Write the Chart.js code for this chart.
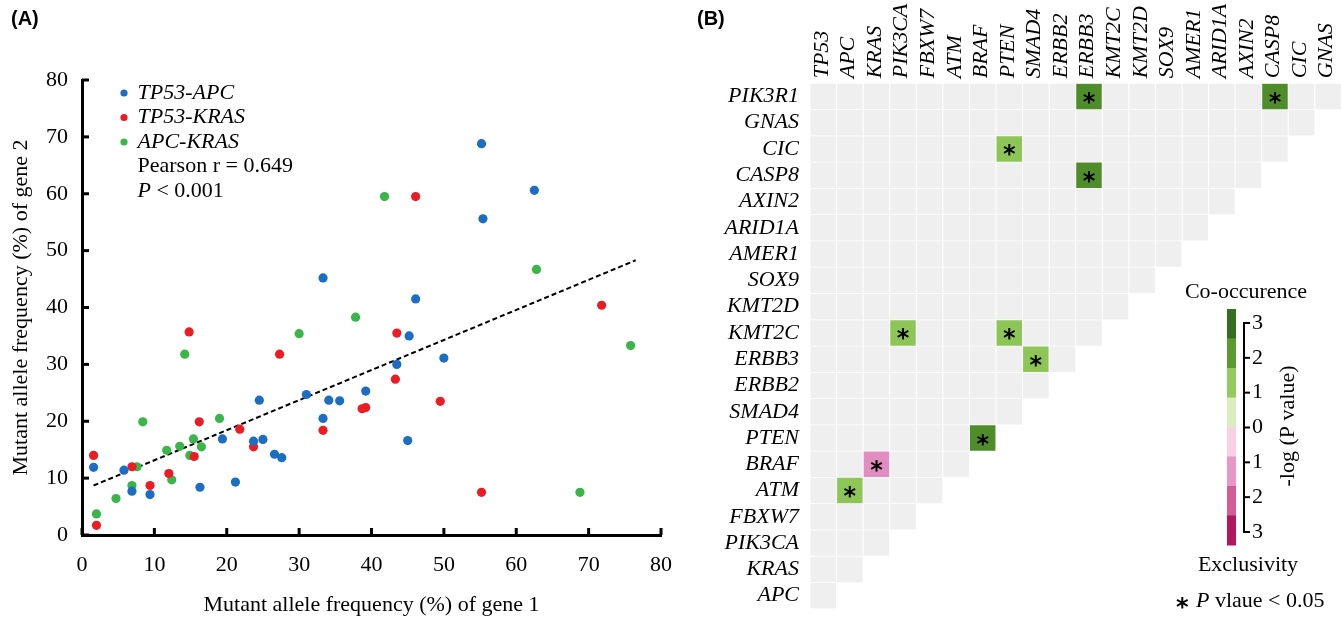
<!DOCTYPE html>
<html>
<head>
<meta charset="utf-8">
<script src="https://cdn.jsdelivr.net/npm/chart.js@4.4.1/dist/chart.umd.min.js"></script>
<style>
  html, body { margin: 0; padding: 0; background: #fff; overflow: hidden; }
  #wrapA { position: absolute; left: 0; top: 0; }
  #wrapB { position: absolute; left: 690px; top: 0; }
</style>
</head>
<body>
<div id="wrapA"><canvas id="chartA" width="690" height="633"></canvas></div>
<div id="wrapB"><canvas id="chartB" width="653" height="633"></canvas></div>
<script>
// ---- panel A: mutant allele frequency (%) gene 1 vs gene 2 ----
var tp53ApcX = [1.6, 5.8, 6.9, 9.4, 16.3, 19.4, 21.2, 23.7, 25.0, 24.5, 26.6, 27.6, 31.0, 33.3, 34.1, 35.6, 33.3, 39.2, 43.5, 45.0, 45.2, 46.1, 50.0, 55.2, 55.4, 62.5];
var tp53ApcY = [11.9, 11.4, 7.7, 7.1, 8.4, 16.9, 9.3, 16.5, 16.8, 23.7, 14.2, 13.6, 24.7, 20.5, 23.7, 23.6, 45.2, 25.3, 30.0, 16.6, 35.0, 41.5, 31.1, 68.8, 55.6, 60.6];
var tp53KrasX = [1.6, 2.0, 6.9, 9.4, 12.0, 14.8, 15.5, 16.2, 21.8, 23.7, 27.3, 33.3, 38.7, 39.2, 43.3, 43.5, 46.1, 49.5, 55.2, 71.8];
var tp53KrasY = [14.0, 1.7, 12.0, 8.7, 10.8, 35.7, 13.8, 19.9, 18.6, 15.5, 31.8, 18.4, 22.2, 22.4, 27.4, 35.5, 59.5, 23.5, 7.5, 40.4];
var apcKrasX = [2.0, 4.7, 6.9, 7.6, 8.4, 11.7, 12.4, 13.5, 14.2, 14.9, 15.4, 16.5, 19.0, 30.0, 37.8, 41.8, 62.8, 68.8, 75.8];
var apcKrasY = [3.7, 6.4, 8.7, 12.0, 19.9, 14.9, 9.7, 15.6, 31.8, 14.0, 16.9, 15.5, 20.5, 35.4, 38.3, 59.5, 46.7, 7.5, 33.3];
var trendX = [1.6, 76.5];
var trendY = [8.7, 48.3];
var pearsonR = '0.649';
var pValue = '0.001';

// ---- panel B: pairwise co-occurrence / exclusivity ----
var colGenes = ['TP53', 'APC', 'KRAS', 'PIK3CA', 'FBXW7', 'ATM', 'BRAF', 'PTEN', 'SMAD4', 'ERBB2', 'ERBB3', 'KMT2C', 'KMT2D', 'SOX9', 'AMER1', 'ARID1A', 'AXIN2', 'CASP8', 'CIC', 'GNAS'];
var rowGenes = ['PIK3R1', 'GNAS', 'CIC', 'CASP8', 'AXIN2', 'ARID1A', 'AMER1', 'SOX9', 'KMT2D', 'KMT2C', 'ERBB3', 'ERBB2', 'SMAD4', 'PTEN', 'BRAF', 'ATM', 'FBXW7', 'PIK3CA', 'KRAS', 'APC'];
// significant pairs, signed -log(P): + co-occurence, - exclusivity
var sigRow = ['PIK3R1', 'PIK3R1', 'CIC', 'CASP8', 'KMT2C', 'KMT2C', 'ERBB3', 'PTEN', 'BRAF', 'ATM'];
var sigCol = ['ERBB3', 'CASP8', 'PTEN', 'ERBB3', 'PIK3CA', 'PTEN', 'SMAD4', 'BRAF', 'KRAS', 'APC'];
var sigLogP = [2.0, 2.0, 1.4, 2.0, 1.4, 1.4, 1.4, 2.0, -1.4, 1.4];
var barTicks = ['3', '2', '1', '0', '1', '2', '3'];

var serif = '"Liberation Serif", "Times New Roman", serif';
var blue = '#1b6ec2', red = '#ec1c24', green = '#3ab54a';

function pts(xs, ys) {
    return xs.map(function (x, i) { return {x: x, y: ys[i]}; });
}

var innerTicks = {
    id: 'innerTicks',
    afterDraw: function (chart) {
        var ctx = chart.ctx, xs = chart.scales.x, ys = chart.scales.y;
        var area = chart.chartArea;
        ctx.save();
        ctx.strokeStyle = '#000';
        ctx.lineWidth = 3;
        xs.ticks.forEach(function (t) {
            var px = xs.getPixelForValue(t.value);
            ctx.beginPath(); ctx.moveTo(px, area.bottom); ctx.lineTo(px, area.bottom - 7); ctx.stroke();
        });
        ys.ticks.forEach(function (t) {
            var py = ys.getPixelForValue(t.value);
            ctx.beginPath(); ctx.moveTo(area.left, py); ctx.lineTo(area.left + 7, py); ctx.stroke();
        });
        ctx.restore();
    }
};

var legendA = {
    id: 'legendA',
    afterDraw: function (chart) {
        var ctx = chart.ctx;
        ctx.save();
        ctx.textBaseline = 'middle';
        ctx.fillStyle = '#000';
        ctx.font = 'bold 20px "Liberation Sans", Arial, sans-serif';
        ctx.fillText('(A)', 11, 19);
        var y = 93;
        for (var i = 0; i < 3; i++) {
            var ds = chart.data.datasets[i];
            ctx.beginPath();
            ctx.arc(124, y, 3.6, 0, Math.PI * 2);
            ctx.fillStyle = ds.backgroundColor;
            ctx.fill();
            ctx.fillStyle = '#000';
            ctx.font = 'italic 22px ' + serif;
            ctx.fillText(ds.label, 137.5, y);
            y += 24.5;
        }
        ctx.font = '22px ' + serif;
        ctx.fillText('Pearson r = ' + pearsonR, 137.5, y);
        y += 24.5;
        ctx.font = 'italic 22px ' + serif;
        ctx.fillText('P', 137.5, y);
        var w = ctx.measureText('P').width;
        ctx.font = '22px ' + serif;
        ctx.fillText(' < ' + pValue, 137.5 + w, y);
        ctx.restore();
    }
};

var chartA = new Chart(document.getElementById('chartA'), {
    type: 'scatter',
    data: {
        datasets: [
            {label: 'TP53-APC', data: pts(tp53ApcX, tp53ApcY), backgroundColor: blue, borderWidth: 0, pointRadius: 4.6},
            {label: 'TP53-KRAS', data: pts(tp53KrasX, tp53KrasY), backgroundColor: red, borderWidth: 0, pointRadius: 4.6},
            {label: 'APC-KRAS', data: pts(apcKrasX, apcKrasY), backgroundColor: green, borderWidth: 0, pointRadius: 4.6},
            {label: 'fit', type: 'line', data: pts(trendX, trendY), borderColor: '#000', borderWidth: 2,
             borderDash: [5, 3], pointRadius: 0, fill: false}
        ]
    },
    options: {
        responsive: false,
        animation: false,
        events: [],
        layout: {padding: {top: 80, right: 29, left: 0, bottom: 0}},
        plugins: {legend: {display: false}, tooltip: {enabled: false}},
        scales: {
            x: {
                type: 'linear', min: 0, max: 80,
                ticks: {stepSize: 10, color: '#000', font: {family: serif, size: 22}, padding: 17},
                grid: {display: false, drawTicks: false},
                border: {display: true, color: '#000', width: 3},
                title: {display: true, text: 'Mutant allele frequency (%) of gene 1', color: '#000',
                        font: {family: serif, size: 22}, padding: {top: 0, bottom: 15}},
                afterFit: function (s) { s.height = 98; }
            },
            y: {
                type: 'linear', min: 0, max: 80,
                ticks: {stepSize: 10, color: '#000', font: {family: serif, size: 22}, padding: 14},
                grid: {display: false, drawTicks: false},
                border: {display: true, color: '#000', width: 3},
                title: {display: true, text: 'Mutant allele frequency (%) of gene 2', color: '#000',
                        font: {family: serif, size: 22}, padding: {top: 8, bottom: 0}},
                afterFit: function (s) { s.width = 82; }
            }
        }
    },
    plugins: [innerTicks, legendA]
});

// build the triangular grid of gene pairs
function sigIndex(rg, cg) {
    for (var k = 0; k < sigRow.length; k++) {
        if (sigRow[k] === rg && sigCol[k] === cg) return k;
    }
    return -1;
}
var cells = [];
rowGenes.forEach(function (rg, r) {
    var stop = colGenes.indexOf(rg);
    if (stop < 0) stop = colGenes.length;
    for (var c = 0; c < stop; c++) {
        var k = sigIndex(rg, colGenes[c]);
        cells.push({x: colGenes[c], y: [r - 0.485, r + 0.485], logp: k >= 0 ? sigLogP[k] : null});
    }
});

function cellColor(v) {
    if (v === null) return '#efefef';
    if (v >= 1.8) return '#4f8d2a';
    if (v >= 1) return '#8dc657';
    if (v <= -1) return '#e18dc1';
    return '#efefef';
}
var barColors = ['#356e1f', '#5a9a2e', '#94ca5e', '#d8efbd', '#f9d0e5', '#e898c6', '#d35d98', '#b2165f'];

var starFont = 'bold 24px "DejaVu Sans", sans-serif';

var starsB = {
    id: 'starsB',
    afterDatasetsDraw: function (chart) {
        var ctx = chart.ctx;
        var meta = chart.getDatasetMeta(0);
        ctx.save();
        ctx.fillStyle = '#000';
        ctx.textAlign = 'center';
        ctx.textBaseline = 'alphabetic';
        ctx.font = starFont;
        meta.data.forEach(function (el, i) {
            if (cells[i].logp === null) return;
            var cy = (el.y + el.base) / 2;
            ctx.fillText('*', el.x, cy + 13.5);
        });
        ctx.restore();
    }
};

var legendB = {
    id: 'legendB',
    afterDraw: function (chart) {
        var ctx = chart.ctx;
        var ox = -690; // page -> canvas
        ctx.save();
        ctx.fillStyle = '#000';
        ctx.textBaseline = 'middle';
        ctx.font = 'bold 20px "Liberation Sans", Arial, sans-serif';
        ctx.fillText('(B)', 697 + ox, 19);

        // colour bar
        var top = 309, seg = 29.5;
        barColors.forEach(function (col, i) {
            ctx.fillStyle = col;
            ctx.fillRect(1227 + ox, top + i * seg, 9, seg + 0.5);
        });
        ctx.strokeStyle = '#000';
        ctx.lineWidth = 2;
        var lx = 1244 + ox, y0 = 323, y1 = 532;
        ctx.beginPath(); ctx.moveTo(lx, y0); ctx.lineTo(lx, y1); ctx.stroke();
        ctx.fillStyle = '#000';
        ctx.font = '22px ' + serif;
        ctx.textAlign = 'left';
        barTicks.forEach(function (t, i) {
            var ty = y0 + i * (y1 - y0) / (barTicks.length - 1);
            ctx.beginPath(); ctx.moveTo(lx - 1, ty); ctx.lineTo(lx + 6, ty); ctx.stroke();
            ctx.fillText(t, 1252 + ox, ty);
        });
        ctx.textAlign = 'center';
        ctx.fillText('Co-occurence', 1246 + ox, 292);
        ctx.fillText('Exclusivity', 1248 + ox, 565);
        ctx.save();
        ctx.translate(1288 + ox, 426);
        ctx.rotate(-Math.PI / 2);
        ctx.fillText('-log (P value)', 0, 0);
        ctx.restore();

        ctx.textAlign = 'left';
        ctx.font = starFont;
        ctx.textBaseline = 'alphabetic';
        ctx.fillText('*', 1176 + ox, 601 + 13.5);
        ctx.textBaseline = 'middle';
        ctx.font = 'italic 22px ' + serif;
        ctx.fillText('P', 1196 + ox, 601);
        var w = ctx.measureText('P').width;
        ctx.font = '22px ' + serif;
        ctx.fillText(' vlaue < 0.05', 1196 + ox + w, 601);
        ctx.restore();
    }
};

var chartB = new Chart(document.getElementById('chartB'), {
    type: 'bar',
    data: {
        labels: colGenes,
        datasets: [{
            data: cells,
            backgroundColor: function (c) { return c.raw ? cellColor(c.raw.logp) : '#efefef'; },
            borderWidth: 0,
            borderSkipped: false,
            barPercentage: 1,
            categoryPercentage: 0.96
        }]
    },
    options: {
        responsive: false,
        animation: false,
        events: [],
        layout: {padding: {top: 0, right: 1.6, left: 0, bottom: 0.7}},
        plugins: {legend: {display: false}, tooltip: {enabled: false}},
        scales: {
            x: {
                type: 'category', position: 'top',
                ticks: {autoSkip: false, minRotation: 90, maxRotation: 90, color: '#000', labelOffset: 25,
                        font: {family: serif, size: 22, style: 'italic'}, padding: 5},
                grid: {display: false, drawTicks: false},
                border: {display: false},
                afterFit: function (s) { s.height = 83.3; }
            },
            y: {
                type: 'linear', min: -0.5, max: 19.5, reverse: true,
                afterBuildTicks: function (s) {
                    s.ticks = rowGenes.map(function (g, i) { return {value: i}; });
                },
                ticks: {autoSkip: false, color: '#000', font: {family: serif, size: 22, style: 'italic'}, padding: 11,
                        callback: function (v) { return rowGenes[v]; }},
                grid: {display: false, drawTicks: false},
                border: {display: false},
                afterFit: function (s) { s.width = 120; }
            }
        }
    },
    plugins: [starsB, legendB]
});
</script>
</body>
</html>
